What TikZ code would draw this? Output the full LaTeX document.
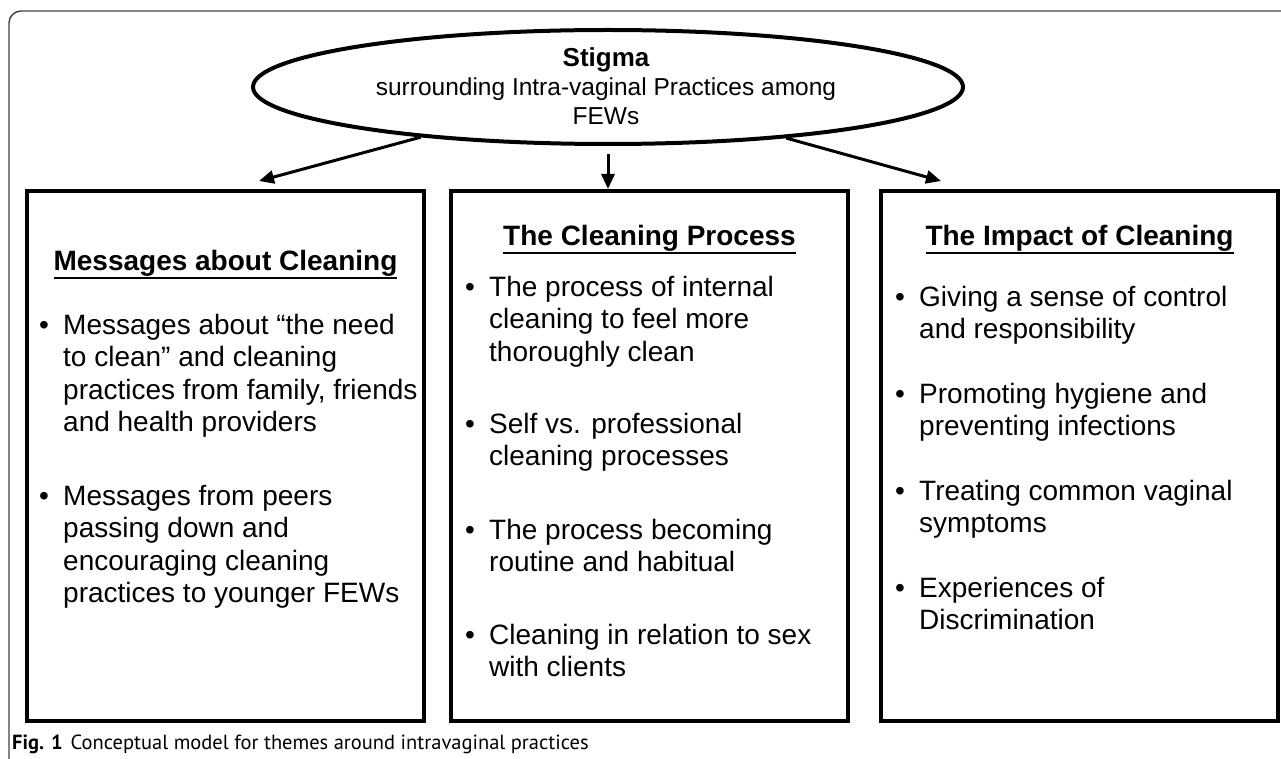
\documentclass[tikz,border=0pt]{standalone}
\usepackage{fontspec}
\setmainfont{Liberation Sans}
\newfontfamily\capfont{PT Sans}
\usetikzlibrary{shapes.geometric,arrows.meta,positioning}

\newcommand\bodyfont{\fontsize{28}{32.5}\selectfont}
\newcommand\hdr[1]{\setbox0\hbox{\bfseries #1}\rlap{\rule[-9pt]{\wd0}{2pt}}\box0}
\newcommand\itm[1]{\begin{tabular}[t]{@{}l@{}l@{}}\makebox[24pt][l]{•}&\begin{tabular}[t]{@{}l@{}}#1\end{tabular}\end{tabular}}

\begin{document}
\begin{tikzpicture}[x=1pt, y=-1pt,
  frame/.style={draw=black!75, line width=1.4pt, rounded corners=12pt},
  stigmabox/.style={draw, ellipse, line width=4pt, minimum width=710pt, minimum height=114pt, inner sep=0pt},
  theme/.style={draw, line width=4pt, minimum width=397pt, minimum height=530pt, inner sep=0pt, outer sep=0pt},
  head/.style={anchor=base, inner sep=0pt, font=\bodyfont},
  point/.style={anchor=base west, inner sep=0pt, font=\bodyfont},
  arr/.style={line width=3pt, -{Triangle[length=15pt,width=13pt]}}]
\useasboundingbox (0,0) rectangle (1281,759);
\draw[frame] (9,759) -- (9,11) -- (1281,11);

% top of the model
\node[stigmabox] (stigma) at (608,87) {};
\node[anchor=base, inner sep=0pt, font=\fontsize{24.5}{29}\selectfont] (stigmatxt) at (606,67)
  {\begin{tabular}[t]{@{}c@{}}{\fontsize{26}{29}\selectfont\bfseries Stigma}\\surrounding Intra-vaginal Practices among\\FEWs\end{tabular}};

% the three themes
\node[theme] (msgbox) at (225.5,456) {};
\node[theme, right=27pt of msgbox] (procbox) {};
\node[theme, right=33pt of procbox] (impactbox) {};

\node[head] (msghead) at (225.5,270) {\hdr{Messages about Cleaning}};
\node[head] (prochead) at (649.5,245) {\hdr{The Cleaning Process}};
\node[head] (impacthead) at (1079.5,245) {\hdr{The Impact of Cleaning}};

\node[point] (msg1) at (39,334) {\itm{Messages about “the need\\to clean” and cleaning\\practices from family, friends\\and health providers}};
\node[point] (msg2) at (39,505) {\itm{Messages from peers\\passing down and\\encouraging cleaning\\practices to younger FEWs}};

\node[point] (proc1) at (465,296) {\itm{The process of internal\\cleaning to feel more\\thoroughly clean}};
\node[point] (proc2) at (465,433) {\itm{Self vs. professional\\cleaning processes}};
\node[point] (proc3) at (465,539) {\itm{The process becoming\\routine and habitual}};
\node[point] (proc4) at (465,644) {\itm{Cleaning in relation to sex\\with clients}};

\node[point] (imp1) at (895,306) {\itm{Giving a sense of control\\and responsibility}};
\node[point] (imp2) at (895,403) {\itm{Promoting hygiene and\\preventing infections}};
\node[point] (imp3) at (895,500) {\itm{Treating common vaginal\\symptoms}};
\node[point] (imp4) at (895,597) {\itm{Experiences of\\Discrimination}};

% arrows
\coordinate (ltip) at (259,181);
\coordinate (mtip) at (608,189);
\coordinate (rtip) at (941,181);
\draw[arr] (stigma.195) -- (ltip);
\draw[arr, shorten <=8pt] (stigma.south) -- (mtip);
\draw[arr] (stigma.-16) -- (rtip);

\node[anchor=base west, inner sep=0pt, font=\capfont\fontsize{20.5}{25}\selectfont] (caption) at (12,749)
  {\textbf{Fig. 1}\hspace{8pt}Conceptual model for themes around intravaginal practices};
\end{tikzpicture}
\end{document}
